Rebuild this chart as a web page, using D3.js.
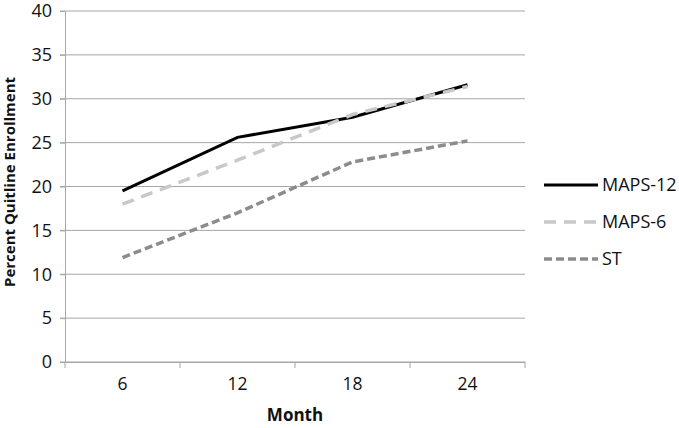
<!DOCTYPE html>
<html>
<head>
<meta charset="utf-8">
<script src="https://cdn.jsdelivr.net/npm/d3@7"></script>
<style>
  body { margin: 0; background: #fff; }
  text { font-family: "Open Sans", "Noto Sans", sans-serif; fill: #111; }
</style>
</head>
<body>
<script>
// chart data
let months = ["6", "12", "18", "24"];
let maps12 = [19.5, 25.6, 27.9, 31.6];
let maps6 = [18.0, 23.0, 28.2, 31.4];
let st = [11.9, 17.0, 22.8, 25.2];
let yTicks = [0, 5, 10, 15, 20, 25, 30, 35, 40];

let w = 679, h = 428;
let mLeft = 65, mRight = 525, mTop = 11, mBottom = 362;

let svg = d3.select("body").append("svg").attr("width", w).attr("height", h);

let x = d3.scaleBand().domain(months).range([mLeft, mRight]);
let y = d3.scaleLinear().domain([0, 40]).range([mBottom, mTop]);

// gridlines
svg.selectAll("line.grid")
  .data(yTicks)
  .enter()
  .append("line")
  .attr("class", "grid")
  .attr("x1", mLeft - 5)
  .attr("x2", mRight)
  .attr("y1", function(d) { return y(d); })
  .attr("y2", function(d) { return y(d); })
  .attr("stroke", "#a6a6a6")
  .attr("stroke-width", 1);

// y axis
let yAxis = svg.append("g")
  .attr("transform", "translate(" + mLeft + ",0)")
  .call(d3.axisLeft(y).tickValues(yTicks).tickSize(5).tickPadding(8));
yAxis.selectAll("line").attr("stroke", "#a6a6a6");
yAxis.select(".domain").attr("stroke", "#a6a6a6");
yAxis.selectAll("text").attr("font-size", "18px").attr("font-family", "Open Sans").attr("fill", "#111");

// x axis
let xAxis = svg.append("g")
  .attr("transform", "translate(0," + mBottom + ")")
  .call(d3.axisBottom(x).tickSize(0).tickPadding(16));
xAxis.select(".domain").attr("stroke", "#a6a6a6");
xAxis.selectAll("text").attr("font-size", "17.5px").attr("font-family", "Open Sans").attr("fill", "#111");

// x tick marks between categories
let edges = months.map(function(m) { return x(m); }).concat([x(months[months.length - 1]) + x.bandwidth()]);
svg.selectAll("line.xtick")
  .data(edges)
  .enter()
  .append("line")
  .attr("class", "xtick")
  .attr("x1", function(d) { return d; })
  .attr("x2", function(d) { return d; })
  .attr("y1", mBottom)
  .attr("y2", mBottom + 6)
  .attr("stroke", "#a6a6a6");

// titles
svg.append("text")
  .text("Month")
  .attr("x", 295)
  .attr("y", 421)
  .attr("text-anchor", "middle")
  .attr("font-size", "17px")
  .attr("font-weight", "bold");

svg.append("text")
  .text("Percent Quitline Enrollment")
  .attr("transform", "translate(15,182) rotate(-90)")
  .attr("text-anchor", "middle")
  .attr("font-size", "15px")
  .attr("font-weight", "bold");

// series
let series = [
  { name: "MAPS-12", values: maps12, color: "#000", dash: null, width: 3 },
  { name: "MAPS-6", values: maps6, color: "#c8c8c8", dash: "12,8", width: 3.5 },
  { name: "ST", values: st, color: "#8c8c8c", dash: "8,4", width: 3.5 }
];

let line = d3.line()
  .x(function(d, i) { return x(months[i]) + x.bandwidth() / 2; })
  .y(function(d) { return y(d); });

// draw ST first, then MAPS-12, then MAPS-6 on top
[series[2], series[0], series[1]].forEach(function(s) {
  svg.append("path")
    .attr("d", line(s.values))
    .attr("fill", "none")
    .attr("stroke", s.color)
    .attr("stroke-width", s.width)
    .attr("stroke-dasharray", s.dash);
});

// legend
let legend = svg.selectAll("g.legend")
  .data(series)
  .enter()
  .append("g")
  .attr("class", "legend")
  .attr("transform", function(d, i) { return "translate(544," + (185 + i * 37) + ")"; });

legend.append("line")
  .attr("x1", 0)
  .attr("x2", 54)
  .attr("stroke", function(d) { return d.color; })
  .attr("stroke-width", function(d) { return d.width; })
  .attr("stroke-dasharray", function(d) { return d.dash; });

legend.append("text")
  .text(function(d) { return d.name; })
  .attr("x", 58)
  .attr("dy", "0.35em")
  .attr("font-size", "18px");
</script>
</body>
</html>
